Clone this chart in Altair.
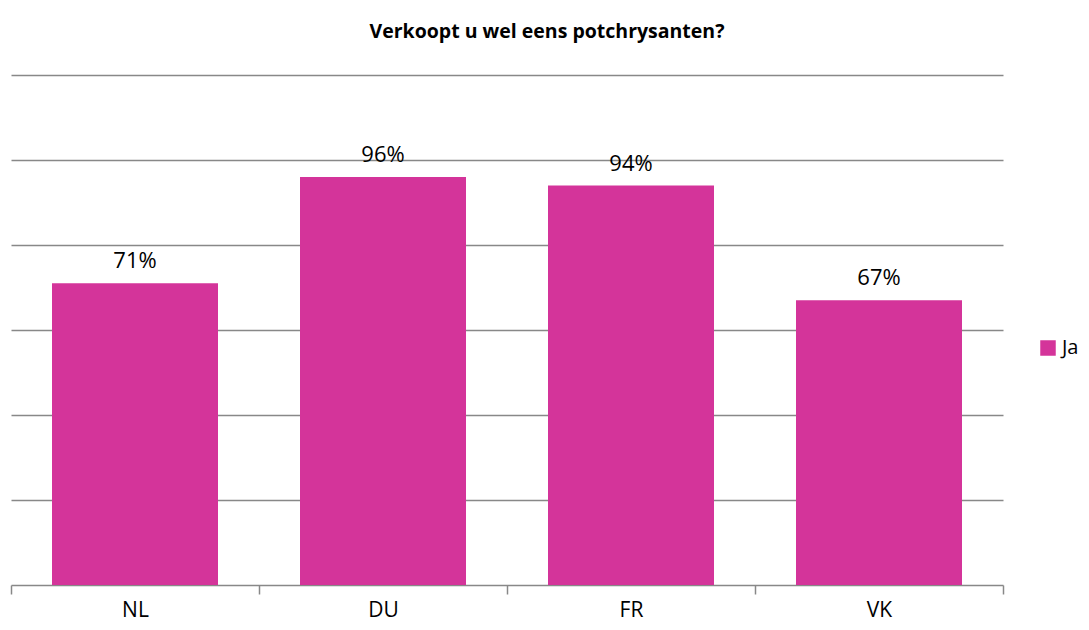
import altair as alt
import pandas as pd

countries = ["NL", "DU", "FR", "VK"]
values = [71, 96, 94, 67]
labels = ["71%", "96%", "94%", "67%"]
series = ["Ja", "Ja", "Ja", "Ja"]

df = pd.DataFrame({"land": countries, "waarde": values, "label": labels, "serie": series})

FONT = "Open Sans"
PINK = "#D4349A"

x = alt.X("land:N", sort=countries, title=None,
          scale=alt.Scale(paddingInner=0, paddingOuter=0),
          axis=alt.Axis(labelAngle=0, labelFont=FONT, labelFontSize=21, labelColor="#000000",
                        domainColor="#888888", domainWidth=1.5, tickColor="#888888", tickWidth=1.5,
                        tickSize=9, tickBand="extent", labelPadding=5, grid=False))
y = alt.Y("waarde:Q", title=None,
          scale=alt.Scale(domain=[0, 120], nice=False),
          axis=alt.Axis(values=[20, 40, 60, 80, 100, 120], labels=False, ticks=False, domain=False,
                        grid=True, gridColor="#888888", gridWidth=1.5))

bars = alt.Chart(df).mark_bar(size=166).encode(
    x=x, y=y,
    color=alt.Color("serie:N", scale=alt.Scale(range=[PINK]), title=None,
                    legend=alt.Legend(orient="none", legendX=1027, legendY=263, symbolType="square",
                                      symbolSize=240, symbolStrokeWidth=0, labelFont=FONT,
                                      labelFontSize=20, labelColor="#000000", symbolOpacity=1,
                                      labelOffset=4))
)
text = alt.Chart(df).mark_text(baseline="alphabetic", dy=-15, font=FONT, fontSize=22, color="#000000").encode(
    x=alt.X("land:N", sort=countries), y="waarde:Q", text="label:N"
)

chart = (bars + text).properties(
    width=992, height=510,
    autosize=alt.AutoSizeParams(type="none"),
    padding={"left": 3, "top": 67, "right": 78, "bottom": 37},
    title=alt.TitleParams("Verkoopt u wel eens potchrysanten?", font=FONT, fontSize=19.5,
                          fontWeight="bold", color="#000000", anchor="middle", dx=40, offset=33),
).configure_view(stroke=None)

chart.save("out.html", embed_options={"renderer": "svg", "actions": False})
